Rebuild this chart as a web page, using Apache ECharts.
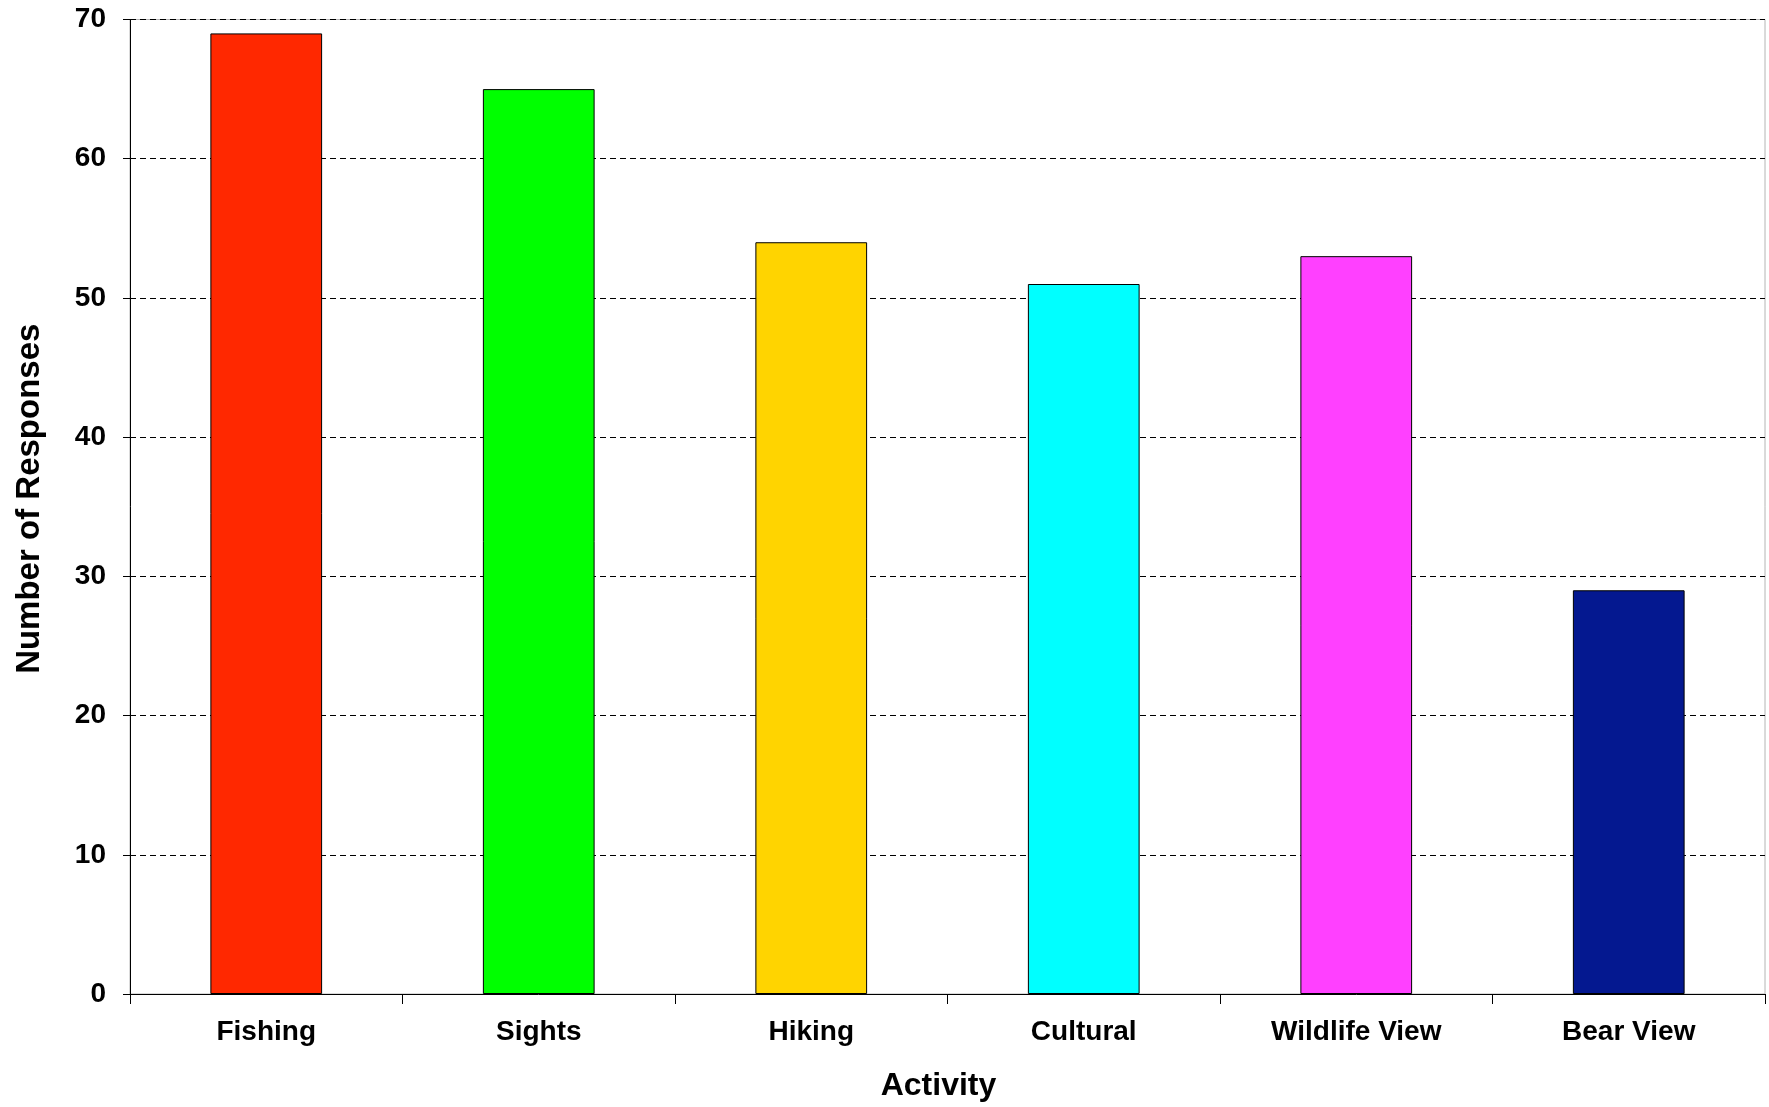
<!DOCTYPE html>
<html>
<head>
<meta charset="utf-8">
<script src="https://cdn.jsdelivr.net/npm/echarts@6/dist/echarts.min.js"></script>
<style>
  html, body { margin: 0; padding: 0; background: #fff; }
  #chart { width: 1769px; height: 1107px; }
</style>
</head>
<body>
<div id="chart"></div>
<script>
// Survey: activities named by respondents
const activities = ['Fishing', 'Sights', 'Hiking', 'Cultural', 'Wildlife View', 'Bear View'];
const responses = [69, 65, 54, 51, 53, 29];
const barColors = ['#FF2800', '#00FF00', '#FFD400', '#00FFFF', '#FF40FF', '#041890'];
const yTicks = { min: 0, max: 70, step: 10 };

const FONT = '"Liberation Sans", Arial, sans-serif';

const chart = echarts.init(document.getElementById('chart'), null, { renderer: 'canvas' });

chart.setOption({
  backgroundColor: '#ffffff',
  animation: false,
  grid: {
    left: 130, right: 4, top: 19.5, bottom: 111,
    show: true,
    borderColor: '#b4b4b4',
    borderWidth: 1,
    backgroundColor: '#ffffff'
  },
  xAxis: {
    type: 'category',
    data: activities,
    name: 'Activity',
    nameLocation: 'middle',
    nameGap: 76,
    nameTextStyle: { fontFamily: FONT, fontWeight: 'bold', fontSize: 32, color: '#000', padding: [0, 18, 0, 0] },
    axisLine: { show: true, lineStyle: { color: '#000', width: 1 } },
    axisTick: { show: true, alignWithLabel: false, length: 10, lineStyle: { color: '#000' } },
    axisLabel: { fontFamily: FONT, fontWeight: 'bold', fontSize: 28, color: '#000', margin: 24 },
    splitLine: { show: false }
  },
  yAxis: {
    type: 'value',
    min: yTicks.min,
    max: yTicks.max,
    interval: yTicks.step,
    name: 'Number of Responses',
    nameLocation: 'middle',
    nameRotate: 90,
    nameGap: 84,
    nameTextStyle: { fontFamily: FONT, fontWeight: 'bold', fontSize: 33, color: '#000', padding: [0, 0, 0, 16] },
    axisLine: { show: true, lineStyle: { color: '#000', width: 1 } },
    axisTick: { show: true, length: 7, lineStyle: { color: '#000' } },
    axisLabel: { fontFamily: FONT, fontWeight: 'bold', fontSize: 28, color: '#000', margin: 24 },
    splitLine: { show: true, lineStyle: { color: '#000', width: 1, type: [6, 4] } }
  },
  series: [{
    type: 'bar',
    data: responses.map((v, i) => ({
      value: v,
      itemStyle: { color: barColors[i] }
    })),
    barCategoryGap: '59%',
    itemStyle: { borderColor: '#000', borderWidth: 1 }
  }]
});
</script>
</body>
</html>
